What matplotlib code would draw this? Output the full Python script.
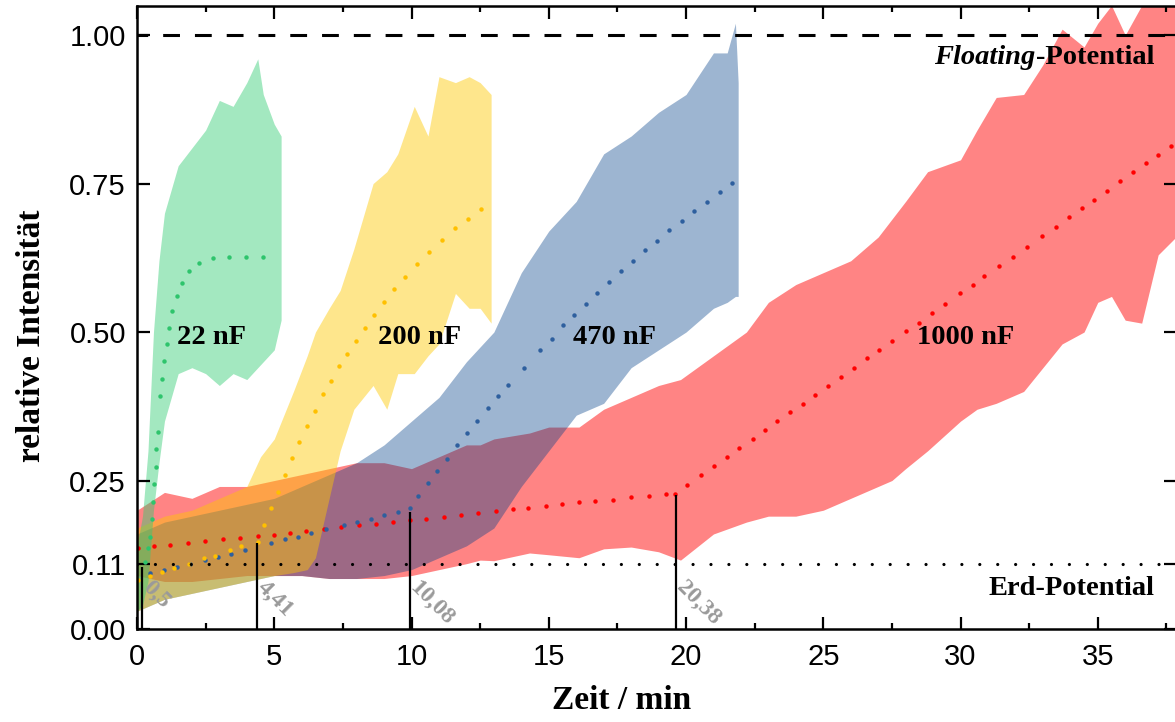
import numpy as np
import matplotlib.pyplot as plt
from matplotlib.ticker import MultipleLocator, FixedLocator

# ---- measured bands (time in min, lower / upper edge of the noisy signal) ----
t_1000 = [0, 1, 2, 3, 4, 5, 6, 7, 8, 9, 10, 11, 12, 12.5, 13, 14.3, 15, 16.1, 17, 18, 19, 19.8,
          21, 22.2, 23, 24, 25, 26, 27, 27.5, 28, 28.8, 30, 30.6, 31.3, 32.3, 33, 33.7, 34.5,
          35, 35.5, 36, 36.6, 37.2, 37.85]
hi_1000 = [0.20, 0.23, 0.22, 0.24, 0.24, 0.25, 0.26, 0.27, 0.28, 0.28, 0.27, 0.29, 0.31, 0.31, 0.32,
           0.33, 0.34, 0.34, 0.37, 0.39, 0.41, 0.42, 0.46, 0.50, 0.55, 0.58, 0.60, 0.62, 0.66, 0.69,
           0.72, 0.77, 0.79, 0.84, 0.895, 0.90, 0.95, 1.01, 0.98, 1.02, 1.05, 1.00, 1.05, 1.05, 1.05]
lo_1000 = [0.09, 0.08, 0.08, 0.085, 0.09, 0.09, 0.09, 0.085, 0.085, 0.085, 0.09, 0.10, 0.11, 0.116,
           0.115, 0.128, 0.125, 0.12, 0.135, 0.138, 0.13, 0.116, 0.16, 0.18, 0.19, 0.19, 0.20, 0.22,
           0.24, 0.25, 0.27, 0.30, 0.35, 0.37, 0.38, 0.40, 0.44, 0.48, 0.50, 0.55, 0.56, 0.52, 0.515,
           0.63, 0.66]

t_470 = [0, 1, 2, 3, 4, 5, 6, 7, 8, 9, 10, 11, 12, 13, 14, 15, 16, 17, 18, 19, 20, 21, 21.5, 21.8, 21.9]
hi_470 = [0.16, 0.18, 0.19, 0.20, 0.21, 0.22, 0.24, 0.26, 0.28, 0.31, 0.35, 0.39, 0.45, 0.50, 0.60,
          0.67, 0.72, 0.80, 0.83, 0.87, 0.90, 0.97, 0.97, 1.02, 0.92]
lo_470 = [0.03, 0.05, 0.06, 0.07, 0.08, 0.09, 0.09, 0.085, 0.085, 0.09, 0.10, 0.12, 0.14, 0.17, 0.24,
          0.30, 0.36, 0.38, 0.44, 0.47, 0.50, 0.54, 0.55, 0.56, 0.56]

t_200 = [0, 1, 2, 3, 4, 4.5, 5, 5.7, 6.2, 6.5, 7.0, 7.4, 7.9, 8.6, 9.1, 9.5, 10.1, 10.6, 11.0, 11.6,
         12.1, 12.5, 12.9]
hi_200 = [0.17, 0.19, 0.20, 0.22, 0.24, 0.29, 0.32, 0.40, 0.46, 0.50, 0.54, 0.57, 0.64, 0.75, 0.77,
          0.80, 0.88, 0.83, 0.93, 0.92, 0.93, 0.92, 0.90]
lo_200 = [0.03, 0.05, 0.06, 0.07, 0.08, 0.085, 0.09, 0.095, 0.10, 0.12, 0.22, 0.30, 0.37, 0.41, 0.37,
          0.43, 0.43, 0.46, 0.48, 0.565, 0.54, 0.54, 0.515]

t_22 = [0, 0.2, 0.4, 0.6, 0.8, 1.0, 1.5, 2.0, 2.5, 3.0, 3.5, 4.0, 4.4, 4.6, 5.0, 5.25]
hi_22 = [0.14, 0.19, 0.30, 0.50, 0.62, 0.70, 0.78, 0.81, 0.84, 0.89, 0.88, 0.92, 0.96, 0.90, 0.85, 0.83]
lo_22 = [0.03, 0.04, 0.08, 0.20, 0.28, 0.35, 0.43, 0.44, 0.43, 0.41, 0.43, 0.42, 0.44, 0.45, 0.47, 0.52]

# ---- fitted curves (dotted) ----
fit_t_22 = [0.3, 0.41, 0.49, 0.55, 0.58, 0.62, 0.68, 0.70, 0.75, 0.85, 0.92, 0.99, 1.08, 1.17, 1.29,
            1.46, 1.64, 1.91, 2.27, 2.76, 3.35, 3.96, 4.6]
fit_v_22 = [0.112, 0.136, 0.155, 0.185, 0.214, 0.244, 0.273, 0.303, 0.332, 0.392, 0.421, 0.451, 0.48,
            0.507, 0.535, 0.56, 0.582, 0.603, 0.617, 0.624, 0.627, 0.627, 0.627]

fit_t_200 = [0.04, 0.46, 0.91, 1.36, 1.88, 2.43, 2.83, 3.4, 3.8, 4.40, 4.64, 4.87, 5.13, 5.38, 5.66,
             5.91, 6.19, 6.48, 6.79, 7.08, 7.37, 7.66, 7.97, 8.29, 8.63, 9.0, 9.37, 9.76, 10.2,
             10.64, 11.1, 11.6, 12.07, 12.53]
fit_v_200 = [0.082, 0.089, 0.096, 0.103, 0.11, 0.12, 0.123, 0.133, 0.139, 0.147, 0.175, 0.203, 0.231,
             0.26, 0.288, 0.315, 0.341, 0.367, 0.395, 0.418, 0.442, 0.463, 0.485, 0.507, 0.529,
             0.55, 0.572, 0.593, 0.615, 0.635, 0.655, 0.675, 0.691, 0.707]

fit_t_470 = [0.49, 0.97, 1.46, 1.94, 2.49, 2.95, 3.44, 3.92, 4.89, 5.38, 5.87, 6.35, 6.89, 7.54, 8.03,
             8.51, 9.0, 9.5, 9.95, 10.25, 10.59, 10.94, 11.29, 11.66, 12.02, 12.4, 12.79, 13.15,
             13.53, 14.1, 14.68, 15.1, 15.53, 15.92, 16.35, 16.76, 17.2, 17.62, 18.06, 18.52, 18.93,
             19.38, 19.84, 20.3, 20.76, 21.23, 21.69]
fit_v_470 = [0.094, 0.099, 0.105, 0.11, 0.116, 0.122, 0.127, 0.133, 0.144, 0.151, 0.155, 0.161, 0.168,
             0.175, 0.18, 0.186, 0.192, 0.197, 0.203, 0.224, 0.245, 0.266, 0.287, 0.309, 0.33, 0.351,
             0.372, 0.392, 0.411, 0.44, 0.47, 0.489, 0.512, 0.528, 0.547, 0.565, 0.584, 0.602, 0.619,
             0.638, 0.654, 0.671, 0.687, 0.704, 0.719, 0.735, 0.751]

fit_t_1000 = [0.02, 0.63, 1.21, 1.86, 2.49, 3.13, 3.74, 4.4, 4.98, 5.56, 6.17, 6.8, 7.43, 8.08, 8.7,
              9.34, 9.95, 10.53, 11.18, 11.79, 12.43, 13.07, 13.7, 14.26, 14.9, 15.5, 16.1, 16.7,
              17.35, 17.99, 18.64, 19.26, 19.6, 20.02, 20.53, 21.02, 21.49, 21.94, 22.43, 22.88,
              23.33, 23.79, 24.25, 24.7, 25.16, 25.64, 26.12, 26.58, 27.03, 27.51, 28.02, 28.47,
              28.97, 29.45, 29.98, 30.45, 30.87, 31.42, 31.9, 32.44, 32.96, 33.47, 33.97, 34.42,
              34.87, 35.35, 35.82, 36.29, 36.76, 37.21, 37.67]
fit_v_1000 = [0.137, 0.139, 0.141, 0.145, 0.149, 0.151, 0.154, 0.157, 0.159, 0.162, 0.165, 0.168,
              0.171, 0.175, 0.177, 0.18, 0.183, 0.186, 0.189, 0.192, 0.195, 0.198, 0.202, 0.204,
              0.207, 0.21, 0.213, 0.215, 0.218, 0.222, 0.224, 0.227, 0.227, 0.242, 0.259, 0.274,
              0.29, 0.304, 0.32, 0.335, 0.35, 0.365, 0.379, 0.394, 0.409, 0.424, 0.44, 0.456, 0.47,
              0.485, 0.501, 0.516, 0.532, 0.548, 0.565, 0.579, 0.594, 0.612, 0.627, 0.644, 0.661,
              0.677, 0.694, 0.709, 0.723, 0.738, 0.754, 0.769, 0.784, 0.798, 0.814]

# charging-time markers
mark_t = [0.2, 4.38, 9.93, 19.65]
mark_top = [0.105, 0.145, 0.197, 0.226]
mark_labels = ["0,5", "4,41", "10,08", "20,38"]

series_labels = ["22 nF", "200 nF", "470 nF", "1000 nF"]
label_t = [1.46, 8.78, 15.9, 28.4]

y_ticks = [0.0, 0.11, 0.25, 0.50, 0.75, 1.00]

SERIF = ["Liberation Serif", "DejaVu Serif"]
plt.rcParams["font.family"] = ["Liberation Sans", "DejaVu Sans"]

fig = plt.figure(figsize=(11.75, 7.22), dpi=100)
ax = fig.add_axes([137 / 1175, 93 / 722, 1039 / 1175, 623 / 722])

# bands: red bottom, blue, yellow, green on top
ax.fill_between(t_1000, lo_1000, hi_1000, color="#ff0a0a", alpha=0.5, lw=0)
ax.fill_between(t_470, lo_470, hi_470, color="#003f88", alpha=0.385, lw=0)
ax.fill_between(t_200, lo_200, hi_200, color="#fdc800", alpha=0.45, lw=0)
ax.fill_between(t_22, lo_22, hi_22, color="#33cc74", alpha=0.45, lw=0)

# fits
ax.plot(fit_t_1000, fit_v_1000, ls="none", marker="o", ms=3.2, mew=0, color="#ff0000")
ax.plot(fit_t_470, fit_v_470, ls="none", marker="o", ms=3.2, mew=0, color="#2e5f9e")
ax.plot(fit_t_200, fit_v_200, ls="none", marker="o", ms=3.2, mew=0, color="#ffc000")
ax.plot(fit_t_22, fit_v_22, ls="none", marker="o", ms=3.2, mew=0, color="#2ec46c")

# reference potentials
ax.axhline(1.0, color="k", lw=2.2, ls=(2, (5.5, 4.9)))
ax.axhline(0.11, color="k", lw=2.3, ls=(0, (0.01, 5.6)), dash_capstyle="round")

ax.vlines(mark_t, 0, mark_top, color="k", lw=1.6)
for t, lab in zip(mark_t, mark_labels):
    ax.text(t + 0.4, 0.088, lab, rotation=-45, rotation_mode="anchor", ha="left", va="top",
            fontsize=17, fontweight="bold", family=SERIF, color="#9a9a9a")

for t, lab in zip(label_t, series_labels):
    ax.text(t, 0.49, lab, ha="left", va="center", fontsize=20.5, fontweight="bold", family=SERIF)

ax.set_xlim(0, 37.85)
ax.set_ylim(0, 1.049)
ax.xaxis.set_major_locator(MultipleLocator(5))
ax.xaxis.set_minor_locator(MultipleLocator(2.5))
ax.yaxis.set_major_locator(FixedLocator(y_ticks))
ax.set_yticklabels([f"{v:.2f}" for v in y_ticks])
ax.tick_params(which="both", direction="in", top=True, right=True, width=1.6, labelsize=21)
ax.tick_params(which="major", length=9)
ax.tick_params(which="minor", length=4.5)
ax.tick_params(axis="x", pad=10)
ax.tick_params(axis="y", pad=8)
for s in ax.spines.values():
    s.set_linewidth(1.8)

ax.set_xlabel("Zeit / min", fontsize=24, fontweight="bold", family=SERIF)
ax.set_ylabel("relative Intensität", fontsize=24, fontweight="bold", family=SERIF)
ax.xaxis.set_label_coords((622 - 137) / 1039, -(685 - 629) / 623)
ax.yaxis.set_label_coords(-(137 - 47) / 1039, (629 - 336) / 623)

ax.text(37.05, 0.069, "Erd-Potential", ha="right", va="center", fontsize=20.5, fontweight="bold",
        family=SERIF)

# Floating-Potential (italic part + upright part)
tp = ax.text(37.05, 0.963, "-Potential", ha="right", va="center", fontsize=20.5,
             fontweight="bold", family=SERIF)
fl = ax.text(37.05, 0.963, "Floating", ha="right", va="center", fontsize=20.5, fontweight="bold",
             style="italic", family=SERIF)
fig.canvas.draw()
bb = tp.get_window_extent()
fl.set_x(ax.transData.inverted().transform((bb.x0, bb.y0))[0])

fig.savefig("out.png", dpi=100)
